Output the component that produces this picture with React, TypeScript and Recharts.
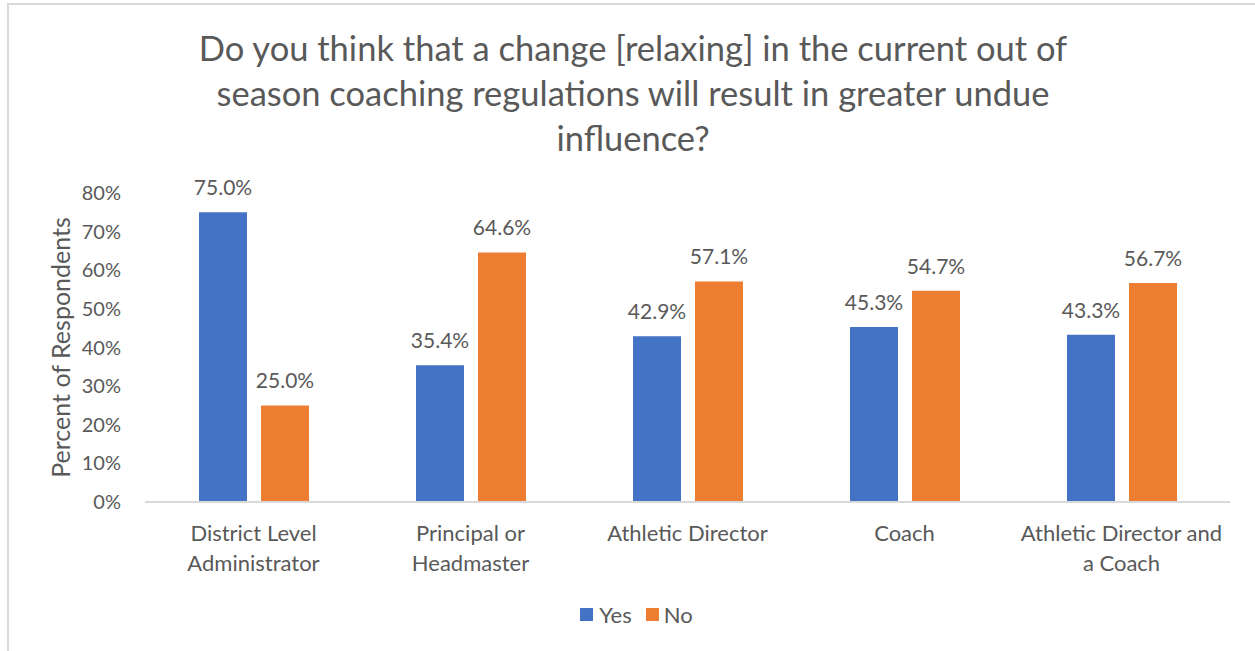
import React from "react";
import {Bar, BarChart, Label, LabelList, Legend, XAxis, YAxis} from "recharts";

const titleLines = [
  "Do you think that a change [relaxing] in the current out of",
  "season coaching regulations will result in greater undue",
  "influence?",
];

const categories = [
  "District Level\nAdministrator",
  "Principal or\nHeadmaster",
  "Athletic Director",
  "Coach",
  "Athletic Director and\na Coach",
];

const yesValues = [75.0, 35.4, 42.9, 45.3, 43.3];
const noValues = [25.0, 64.6, 57.1, 54.7, 56.7];

const yTicks = [0, 10, 20, 30, 40, 50, 60, 70, 80];

const seriesNames = {yes: "Yes", no: "No"};

const TEXT = "#595959";
const BLUE = "#4472C4";
const ORANGE = "#ED7D31";
const FONT = "Lato, 'Open Sans', sans-serif";

const data = categories.map((name, i) => ({name, yes: yesValues[i], no: noValues[i]}));

const CategoryTick = ({x, y, payload}: any) => {
  const lines = String(payload.value).split("\n");
  return (
    <text x={x} y={y} textAnchor="middle" fill={TEXT} fontSize={22} fontFamily={FONT}>
      {lines.map((line, i) => (
        <tspan key={i} x={x} dy={i === 0 ? 37 : 30}>{line}</tspan>
      ))}
    </text>
  );
};

const LegendContent = () => (
  <div style={{display: "flex", justifyContent: "center", alignItems: "center", paddingLeft: 18, height: 24,
    fontFamily: FONT, fontSize: 22, color: TEXT}}>
    <span style={{width: 13, height: 13, background: BLUE, marginRight: 6}} />
    <span style={{marginRight: 14}}>{seriesNames.yes}</span>
    <span style={{width: 13, height: 13, background: ORANGE, marginRight: 5}} />
    <span>{seriesNames.no}</span>
  </div>
);

const YTitle = ({viewBox}: any) => {
  const x = viewBox.x + 15;
  const y = viewBox.y + viewBox.height / 2;
  return (
    <text x={x} y={y} transform={`rotate(-90, ${x}, ${y})`} textAnchor="middle" dominantBaseline="central"
      fill={TEXT} fontSize={25} fontFamily={FONT}>
      Percent of Respondents
    </text>
  );
};

export default function App() {
  return (
    <div style={{position: "absolute", left: 0, top: 0, width: 1255, height: 651, overflow: "hidden", background: "#fff"}}>
      <div style={{position: "absolute", left: 7, top: 3, width: 1300, height: 700, border: "2px solid #d9d9d9"}} />
      <div style={{position: "absolute", left: 0, top: 25, width: 1266, textAlign: "center", fontFamily: FONT,
        fontSize: 34.5, lineHeight: "45px", color: TEXT}}>
        {titleLines.map((line) => <div key={line}>{line}</div>)}
      </div>
      <div style={{position: "absolute", left: 0, top: 0}}>
        <BarChart width={1255} height={651} data={data} margin={{top: 193, right: 25, bottom: 25, left: 45}}
          barGap={14}>
          <XAxis dataKey="name" height={100} tick={<CategoryTick />} tickLine={false} tickSize={0} interval={0}
            axisLine={{stroke: "#d9d9d9", strokeWidth: 2}} />
          <YAxis width={100} domain={[0, 80]} ticks={yTicks} axisLine={false} tickLine={false} tickSize={0}
            tickMargin={24} tickFormatter={(v: number) => `${v}%`}
            tick={{fill: TEXT, fontSize: 20, fontFamily: FONT}}>
            <Label content={<YTitle />} />
          </YAxis>
          <Legend verticalAlign="bottom" content={<LegendContent />} wrapperStyle={{left: 0, width: 1255}} />
          <Bar dataKey="yes" name={seriesNames.yes} fill={BLUE} barSize={48} isAnimationActive={false}>
            <LabelList dataKey="yes" position="top" offset={17} fill={TEXT} fontSize={21} fontFamily={FONT}
              formatter={(v: any) => `${Number(v).toFixed(1)}%`} />
          </Bar>
          <Bar dataKey="no" name={seriesNames.no} fill={ORANGE} barSize={48} isAnimationActive={false}>
            <LabelList dataKey="no" position="top" offset={17} fill={TEXT} fontSize={21} fontFamily={FONT}
              formatter={(v: any) => `${Number(v).toFixed(1)}%`} />
          </Bar>
        </BarChart>
      </div>
    </div>
  );
}
